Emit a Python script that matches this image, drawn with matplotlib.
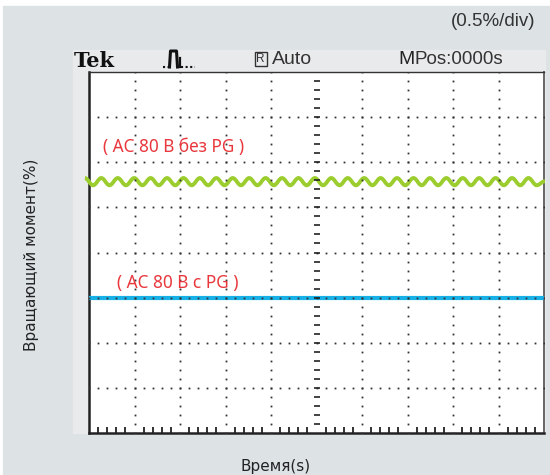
import numpy as np
import matplotlib
matplotlib.use("Agg")
import matplotlib.pyplot as plt
from matplotlib.path import Path
from matplotlib.patches import PathPatch, Rectangle
from matplotlib.lines import Line2D

# scope settings: 10 time divisions, 8 vertical divisions at 0.5 %/div
n_xdiv = 10
n_ydiv = 8
pct_per_div = 0.5

# trace without PG: ripple read off peaks / troughs (%)
green_vals = [2.825, 2.745, 2.825, 2.745, 2.825, 2.745, 2.825, 2.745, 2.825, 2.745,
              2.825, 2.745, 2.825, 2.745, 2.825, 2.745, 2.825, 2.745, 2.825, 2.745,
              2.825, 2.745, 2.825, 2.745, 2.825, 2.745, 2.825, 2.745, 2.825, 2.745,
              2.825, 2.745, 2.825, 2.745, 2.825, 2.745, 2.825, 2.745, 2.825, 2.745,
              2.825, 2.745, 2.825, 2.745, 2.825, 2.745, 2.825, 2.745, 2.825, 2.745,
              2.825, 2.745, 2.825, 2.745, 2.825, 2.745, 2.79]
green_t = np.linspace(-0.09, 10.02, len(green_vals))

# trace with PG: flat (%)
blue_t = [0.0, 10.0]
blue_vals = [1.5, 1.5]

label_nopg = "( AC 80 В без PG )"
label_pg = "( AC 80 В с PG )"

W, H = 550, 475
fig = plt.figure(figsize=(5.5, 4.75), dpi=100)
fig.patch.set_facecolor("white")


def px(x, y):
    return x / W, 1 - y / H


# background panels
fig.add_artist(Rectangle(px(3, 475), (W - 3) / W, (475 - 6) / H,
                         transform=fig.transFigure, color="#dde2e5", zorder=0))
fig.add_artist(Rectangle(px(73, 433), (545 - 73) / W, (433 - 50) / H,
                         transform=fig.transFigure, color="#e9eaeb", zorder=0))

x0, y0 = px(89, 433)
x1, y1 = px(544, 72)
ax = fig.add_axes([x0, y0, x1 - x0, y1 - y0])
ax.set_facecolor("white")
ymax = n_ydiv * pct_per_div
ax.set_xlim(0, n_xdiv)
ax.set_ylim(0, ymax)
ax.set_xticks([])
ax.set_yticks([])
for s in ["left", "bottom"]:
    ax.spines[s].set_linewidth(1.8)
    ax.spines[s].set_color("#222222")
ax.spines["top"].set_linewidth(1.0)
ax.spines["top"].set_color("#333333")
ax.spines["right"].set_linewidth(1.4)
ax.spines["right"].set_color("#666666")

# graticule
xminor = np.arange(0, n_xdiv + 0.001, 0.2)
yminor = np.arange(0, ymax + 0.001, pct_per_div / 5)
xmajor = np.arange(1, n_xdiv)
ymajor = np.arange(1, n_ydiv) * pct_per_div
dot = dict(ls="none", marker="s", ms=1.3, color="#333333", mew=0, zorder=5)
for xm in xmajor:
    if xm == n_xdiv / 2:
        continue
    ax.plot(np.full_like(yminor, xm), yminor, **dot)
for ym in ymajor:
    ax.plot(xminor, np.full_like(xminor, ym), **dot)
# centre line dashes
ax.plot(np.full_like(yminor[1:-1], n_xdiv / 2), yminor[1:-1], ls="none",
        marker="_", ms=4, mew=1.2, color="#222222", zorder=6)
# border ticks
yt = [v for v in yminor[1:-1] if not np.isclose(v % pct_per_div, 0) and not np.isclose(v % pct_per_div, pct_per_div)]
xt = [v for v in xminor[1:-1] if not np.isclose(v % 1, 0) and not np.isclose(v % 1, 1)]
ax.plot(np.zeros(len(yt)), yt, ls="none", marker=0, ms=4, mew=1.3,
        color="#222222", zorder=6)
ax.plot(xt, np.zeros(len(xt)), ls="none", marker=2, ms=4, mew=1.3,
        color="#222222", zorder=6)

# green trace: smooth curve through the read extrema
verts = [(green_t[0], green_vals[0])]
codes = [Path.MOVETO]
for i in range(1, len(green_vals)):
    dt = green_t[i] - green_t[i - 1]
    verts += [(green_t[i - 1] + dt * 0.37, green_vals[i - 1]),
              (green_t[i] - dt * 0.37, green_vals[i]),
              (green_t[i], green_vals[i])]
    codes += [Path.CURVE4] * 3
ax.add_patch(PathPatch(Path(verts, codes), fill=False, ec="#9ccd2f", lw=2.8,
                       clip_on=False, zorder=3))

ax.plot(blue_t, blue_vals, color="#17b1e8", lw=3.0, solid_capstyle="butt", zorder=3)

red = "#e8383d"
ax.text(0.31, 3.167, label_nopg, color=red, fontsize=12.4, family="Noto Sans",
        va="center", ha="left", zorder=8)
ax.text(0.615, 1.667, label_pg, color=red, fontsize=12.4, family="Noto Sans",
        va="center", ha="left", zorder=8)

# header texts
fig.text(*px(535, 21), "(0.5%/div)", ha="right", va="center", fontsize=13.5,
         color="#333333", family="Liberation Sans")
fig.text(*px(74, 61), "Tek", ha="left", va="center", fontsize=15,
         family="DejaVu Serif", weight="heavy", color="#111111")
fig.text(*px(272, 59), "Auto", ha="left", va="center", fontsize=14,
         family="Liberation Sans", color="#333333")
fig.text(*px(398, 59), "M", ha="left", va="center", fontsize=14,
         family="Liberation Sans", color="#222222")
fig.text(*px(415, 59), "Pos:0000s", ha="left", va="center", fontsize=13.5,
         family="Liberation Sans", color="#333333")
fig.text(*px(260.5, 59), "R", ha="center", va="center", fontsize=8.5,
         family="Liberation Sans", color="#333333")
bx, by = px(254.5, 66)
fig.add_artist(Rectangle((bx, by), 12.5 / W, 14 / H, transform=fig.transFigure,
                         fill=False, ec="#333333", lw=1.0))

# pulse icon
def seg(xs, ys, **kw):
    fig.add_artist(Line2D([x / W for x in xs], [1 - y / H for y in ys],
                          transform=fig.transFigure, color="#111111", **kw))

seg([163, 169], [67, 67], lw=1.5, ls=(0, (1, 1.2)))
seg([169.5, 170.5, 176.5, 177.5], [67, 51, 51, 67], lw=2.2)
seg([179.5, 179.5], [58, 67], lw=1.6)
seg([181, 195], [67, 67], lw=1.5, ls=(0, (1, 1.2)))

# axis labels
fig.text(*px(276, 466), "Время(s)", ha="center", va="center", fontsize=11,
         color="#222222", family="DejaVu Sans")
fig.text(*px(32, 255), "Вращающий момент(%)", ha="center", va="center",
         rotation=90, fontsize=11, color="#222222", family="DejaVu Sans")

fig.savefig("out.png", dpi=100)
